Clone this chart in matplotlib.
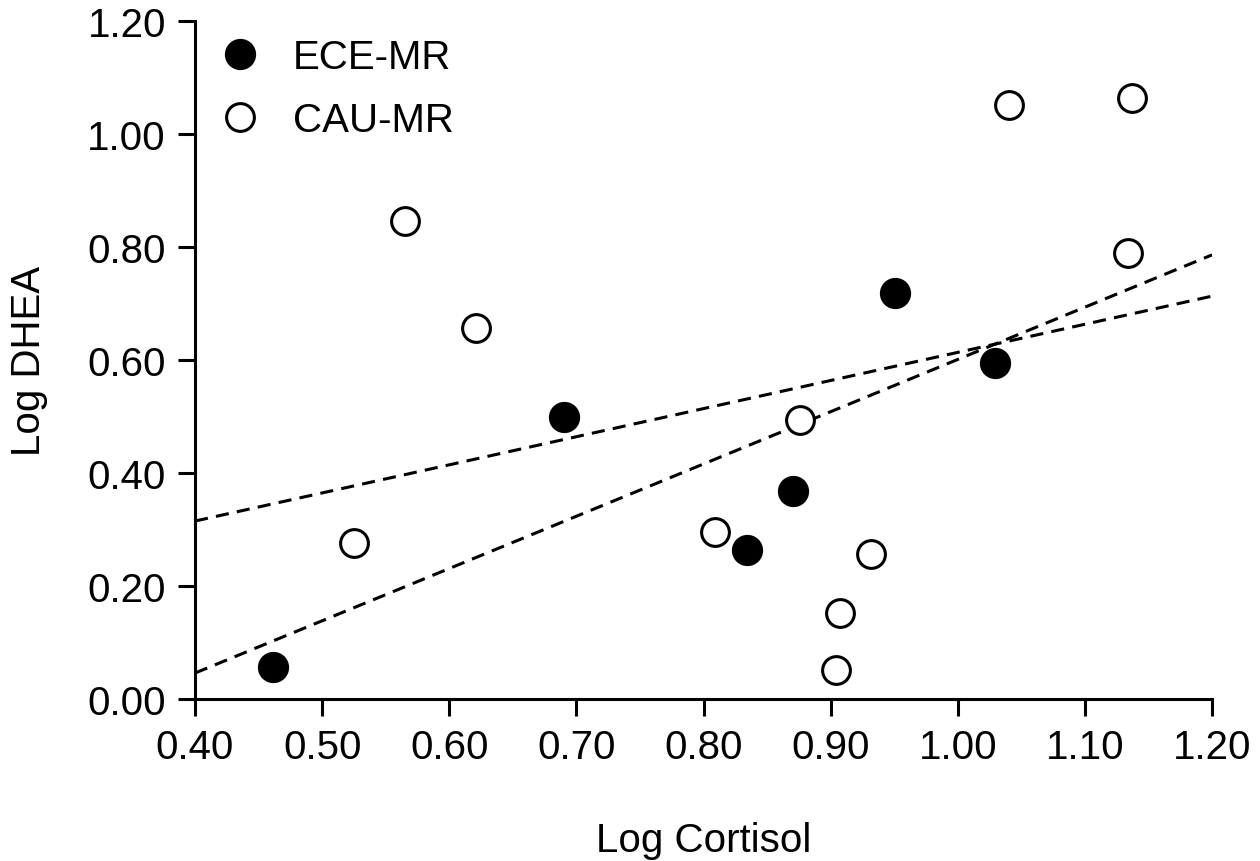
import numpy as np
import matplotlib
matplotlib.use("Agg")
from matplotlib import pyplot as plt

plt.rcParams['font.family'] = ['Liberation Sans', 'DejaVu Sans']

# ECE-MR (points pleins)
ece_x = [0.461, 0.690, 0.834, 0.870, 0.951, 1.029]
ece_y = [0.057, 0.499, 0.264, 0.368, 0.719, 0.595]

# CAU-MR (points vides)
cau_x = [0.525, 0.565, 0.621, 0.809, 0.876, 0.907, 0.904, 0.932, 1.040, 1.137, 1.134]
cau_y = [0.276, 0.846, 0.657, 0.296, 0.494, 0.152, 0.051, 0.257, 1.051, 1.064, 0.789]

# droites de régression : (ordonnée à x=0.40, ordonnée à x=1.20)
fit_x = [0.40, 1.20]
fit_ece = [0.046, 0.786]
fit_cau = [0.315, 0.713]

xticks = [0.40, 0.50, 0.60, 0.70, 0.80, 0.90, 1.00, 1.10, 1.20]
yticks = [0.00, 0.20, 0.40, 0.60, 0.80, 1.00, 1.20]

fig = plt.figure(figsize=(12.6, 8.62), dpi=100)
ax = fig.add_axes([0.1548, 0.1879, 0.8071, 0.7866])

ax.plot(fit_x, fit_ece, color="black", linewidth=2.2, dashes=(4.3, 2.7), zorder=1)
ax.plot(fit_x, fit_cau, color="black", linewidth=2.2, dashes=(4.3, 2.7), zorder=1)

ax.plot(ece_x, ece_y, linestyle="none", marker="o", markersize=21, markerfacecolor="black",
        markeredgecolor="black", markeredgewidth=1.5, label="ECE-MR", zorder=3)
ax.plot(cau_x, cau_y, linestyle="none", marker="o", markersize=20, markerfacecolor="white",
        markeredgecolor="black", markeredgewidth=2.2, label="CAU-MR", zorder=3)

ax.set_xlim(0.40, 1.20)
ax.set_ylim(0.00, 1.20)
ax.set_xticks(xticks)
ax.set_yticks(yticks)
ax.set_xticklabels([f"{v:.2f}" for v in xticks])
ax.set_yticklabels([f"{v:.2f}" for v in yticks])
ax.tick_params(axis="both", direction="out", length=12, width=2.2, labelsize=29, pad=9)

for s in ["top", "right"]:
    ax.spines[s].set_visible(False)
for s in ["left", "bottom"]:
    ax.spines[s].set_linewidth(2.2)

ax.set_xlabel("Log Cortisol", fontsize=29)
ax.set_ylabel("Log DHEA", fontsize=29)
ax.xaxis.set_label_coords(0.5, -0.180)
ax.yaxis.set_label_coords(-0.1445, 0.5)

ax.legend(loc="upper left", bbox_to_anchor=(0.009, 0.998), frameon=False, fontsize=29,
          handlelength=1.0, handletextpad=0.8, labelspacing=0.6, borderaxespad=0.0)

fig.savefig("out.png", dpi=100)
